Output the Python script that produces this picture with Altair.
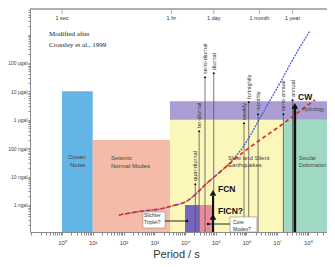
import altair as alt
import pandas as pd

# ---------------- ranges (period in s, amplitude in ngal) ----------------
X_MIN, X_MAX = 0.091, 4.15e8
Y_MIN, Y_MAX = 0.112, 7.9e6

# ---------------- shaded regions ----------------
reg_name = ["Ocean Noise", "Seismic Normal Modes", "Slow and Silent Earthquakes",
            "Secular Deformation", "Hydrology band", "Core mode a", "Core mode b"]
reg_p0 = [1, 10, 3250, 1.55e7, 3250, 10000, 28500]
reg_p1 = [10, 3250, 1.55e7, X_MAX, X_MAX, 28500, 81300]
reg_a0 = [Y_MIN, Y_MIN, Y_MIN, Y_MIN, 1000, Y_MIN, Y_MIN]
reg_a1 = [10000, 195, 1000, 1000, 4500, 1, 1]
reg_col = ["#63b5e6", "#f3bba8", "#fbf7bb", "#a0d9c1", "#aa9dd4", "#7466bf", "#e98b9c"]

# ---------------- region labels ----------------
lab_text = ["Ocean", "Noise", "Seismic", "Normal Modes", "Slow and Silent", "Earthquakes"]
lab_p = [1.57, 1.82, 38.9, 38.9, 2.51e5, 2.51e5]
lab_a = [49, 25.6, 45.2, 23.6, 45.2, 25.6]
edge_text = ["Secular", "Deformation", "Hydrology"]
edge_p = [5.13e7, 5.13e7, 6.38e7]
edge_a = [45.2, 25.6, 2400]

# ---------------- noise curves ----------------
blue_p = [71, 430, 1540, 3780, 11600, 24500, 44700, 81500, 137000, 250000,
          456000, 769000, 1.30e6, 2.75e6, 1.23e7, 5.50e7, 1.16e8]
blue_a = [0.445, 0.615, 0.723, 0.923, 1.38, 2.65, 5.06, 8.93, 14.5, 25.6,
          53.1, 110, 269, 1160, 19800, 366000, 1.34e6]
red_p = [71, 430, 1540, 3780, 11600, 24500, 44700, 81500, 137000, 250000,
         456000, 893000, 2.75e6, 1.23e7, 5.50e7, 1.69e8]
red_a = [0.445, 0.615, 0.723, 0.923, 1.38, 2.65, 5.06, 8.93, 14.5, 25.6,
         45.2, 79.6, 195, 605, 2040, 4980]

# ---------------- tidal lines ----------------
tide_name = ["quar-diurnal", "ter-diurnal", "semi-diurnal", "diurnal", "weekly",
             "fortnightly", "monthly", "semi-annual", "annual"]
tide_period = [21600, 28800, 44712, 86164, 830000, 1180000, 2380000, 15780000, 31560000]
tide_top = [5.5, 405, 32000, 44500, 770, 4240, 1600, 1600, 4990]

# ---------------- big arrows ----------------
arrow_name = ["CW", "FCN", "FICN?"]
arrow_period = [3.74e7, 81300, 81300]
arrow_head = [3090, 2.65, 0.38]
arrow_label_p = [4.73e7, 118000, 118000]
arrow_label_a = [6320, 3.66, 0.615]
shaft_period = [3.74e7, 81300]
shaft_top = [2600, 2.07]
shaft_width = [2.6, 2.0]

# ---------------- boxes with pointers ----------------
box_p0 = [430, 290000]
box_p1 = [2240, 2.19e6]
box_a0 = [0.155, Y_MIN]
box_a1 = [0.568, 0.38]
box_text = ["Slichter", "Triplet?", "Core", "Modes?"]
box_text_p = [465, 465, 364000, 364000]
box_text_a = [0.445, 0.25, 0.247, 0.143]
ptr_p0 = [2240, 290000]
ptr_p1 = [11700, 56200]
ptr_a = [0.273, 0.214]

# ---------------- top period markers ----------------
top_names = ["1 sec", "1 hr", "1 day", "1 month", "1 year"]
top_period = [1, 3600, 86400, 2.63e6, 3.156e7]

# ---------------- citation ----------------
cite_text = ["Modified after", "Crossley et al., 1999"]
cite_p = [0.378, 0.378]
cite_a = [1.05e6, 4.3e5]

# ---------------- scales / axes ----------------
FONT = "Liberation Sans"
XS = alt.Scale(type="log", domain=[X_MIN, X_MAX], nice=False)
YS = alt.Scale(type="log", domain=[Y_MIN, Y_MAX], nice=False)

x_major = {1: "10⁰", 10: "10¹", 100: "10²", 1000: "10³", 10000: "10⁴",
           100000: "10⁵", 1000000: "10⁶", 10000000: "10⁷", 100000000: "10⁸"}
y_major = {1: "1 ngal", 10: "10 ngal", 100: "100 ngal", 1000: "1 µgal",
           10000: "10 µgal", 100000: "100 µgal"}

x_ticks = [m * 10 ** k for k in range(-2, 9) for m in range(1, 10)
           if X_MIN <= m * 10 ** k <= X_MAX]
y_ticks = [m * 10 ** k for k in range(-1, 7) for m in range(1, 10)
           if Y_MIN <= m * 10 ** k <= Y_MAX]


def label_expr(mapping):
    parts = "".join(f"datum.value=={k}?'{v}':" for k, v in mapping.items())
    return parts + "''"


x_axis = alt.Axis(values=x_ticks, labelExpr=label_expr(x_major), tickSize=3,
                  tickColor="#8a8a8a", domainColor="#8a8a8a", labelFontSize=6,
                  labelColor="#444", labelFont=FONT, labelPadding=4,
                  labelOverlap=False, labelFlush=False, grid=False,
                  title="Period / s", titleFont=FONT, titleFontSize=11,
                  titleFontWeight="normal", titleColor="#333", titleX=146,
                  titleY=25, titleBaseline="alphabetic", titleAlign="center")
y_axis = alt.Axis(values=y_ticks, labelExpr=label_expr(y_major), tickSize=2,
                  tickColor="#8a8a8a", domainColor="#8a8a8a", labelFontSize=5,
                  labelColor="#444", labelFont=FONT, labelPadding=1,
                  labelOverlap=False, labelFlush=False, grid=False, title=None)


def X(f):
    return alt.X(f, type="quantitative", scale=XS, axis=x_axis)


def Y(f):
    return alt.Y(f, type="quantitative", scale=YS, axis=y_axis)


def X2(f):
    return alt.X2(f)


def Y2(f):
    return alt.Y2(f)


# ---------------- data frames ----------------
regions = pd.DataFrame({"name": reg_name, "p0": reg_p0, "p1": reg_p1,
                        "a0": reg_a0, "a1": reg_a1, "col": reg_col})
labels = pd.DataFrame({"t": lab_text, "p": lab_p, "a": lab_a})
edge_labels = pd.DataFrame({"t": edge_text, "p": edge_p, "a": edge_a})
blue = pd.DataFrame({"p": blue_p, "a": blue_a})
red = pd.DataFrame({"p": red_p, "a": red_a})
tides = pd.DataFrame({"name": tide_name, "p": tide_period, "top": tide_top,
                      "base": [Y_MIN] * len(tide_name)})
heads = pd.DataFrame({"name": arrow_name, "p": arrow_period, "a": arrow_head,
                      "lp": arrow_label_p, "la": arrow_label_a})
shafts = pd.DataFrame({"p": shaft_period, "top": shaft_top, "w": shaft_width,
                       "base": [Y_MIN] * len(shaft_period)})
boxes = pd.DataFrame({"p0": box_p0, "p1": box_p1, "a0": box_a0, "a1": box_a1})
box_lab = pd.DataFrame({"t": box_text, "p": box_text_p, "a": box_text_a})
ptrs = pd.DataFrame({"p0": ptr_p0, "p1": ptr_p1, "a": ptr_a})
tops = pd.DataFrame({"name": top_names, "p": top_period})
cite = pd.DataFrame({"t": cite_text, "p": cite_p, "a": cite_a})

# ---------------- layers ----------------
rect_layer = alt.Chart(regions).mark_rect(clip=True).encode(
    x=X("p0"), x2=X2("p1"), y=Y("a0"), y2=Y2("a1"),
    color=alt.Color("col:N", scale=None))

tide_rules = alt.Chart(tides).mark_rule(color="#555", strokeWidth=0.8, clip=True).encode(
    x=X("p"), y=Y("base"), y2=Y2("top"))
tide_dots = alt.Chart(tides).mark_point(shape="triangle-up", size=7, filled=True,
                                        color="#111", opacity=1).encode(
    x=X("p"), y=Y("top"))
tide_text = alt.Chart(tides).mark_text(angle=270, align="left", baseline="middle",
                                       dx=3, fontSize=5.6, font=FONT, color="#333").encode(
    x=X("p"), y=Y("top"), text="name:N")

shaft_layer = alt.Chart(shafts).mark_rule(color="#111", clip=True).encode(
    x=X("p"), y=Y("base"), y2=Y2("top"),
    strokeWidth=alt.StrokeWidth("w:Q", scale=None))

blue_line = alt.Chart(blue).mark_line(color="#3a55d8", strokeWidth=1.2,
                                      strokeDash=[2, 1], interpolate="monotone",
                                      clip=True).encode(x=X("p"), y=Y("a"))
red_line = alt.Chart(red).mark_line(color="#e8262b", strokeWidth=1.7,
                                    strokeDash=[4, 3], interpolate="monotone",
                                    clip=True).encode(x=X("p"), y=Y("a"))

head_layer = alt.Chart(heads).mark_point(shape="triangle-up", size=45, filled=True,
                                         color="#111", opacity=1).encode(
    x=X("p"), y=Y("a"))
head_text = alt.Chart(heads).mark_text(align="left", baseline="middle", fontSize=8.5,
                                       fontWeight="bold", font=FONT, color="#111").encode(
    x=X("lp"), y=Y("la"), text="name:N")

box_layer = alt.Chart(boxes).mark_rect(fill="white", stroke="#8c8c8c",
                                       strokeWidth=0.6, clip=True).encode(
    x=X("p0"), x2=X2("p1"), y=Y("a0"), y2=Y2("a1"))
box_text_layer = alt.Chart(box_lab).mark_text(align="left", baseline="middle",
                                              fontSize=5, font=FONT, color="#333").encode(
    x=X("p"), y=Y("a"), text="t:N")
ptr_layer = alt.Chart(ptrs).mark_rule(color="#111", strokeWidth=0.9).encode(
    x=X("p0"), x2=X2("p1"), y=Y("a"))
ptr_dot = alt.Chart(ptrs).mark_point(shape="circle", size=6, filled=True,
                                     color="#111", opacity=1).encode(
    x=X("p1"), y=Y("a"))

label_layer = alt.Chart(labels).mark_text(align="left", baseline="middle", fontSize=6,
                                          font=FONT, color="#444").encode(
    x=X("p"), y=Y("a"), text="t:N")
edge_layer = alt.Chart(edge_labels).mark_text(align="left", baseline="middle",
                                              fontSize=5, font=FONT, color="#444").encode(
    x=X("p"), y=Y("a"), text="t:N")

cite_layer = alt.Chart(cite).mark_text(align="left", baseline="middle", fontSize=7,
                                       font="Liberation Serif", color="#222").encode(
    x=X("p"), y=Y("a"), text="t:N")

top_ticks = alt.Chart(tops).mark_rule(color="#9a9a9a", strokeWidth=0.8).encode(
    x=X("p"), y=alt.value(0), y2=alt.value(5))
top_text = alt.Chart(tops).mark_text(align="center", baseline="middle", fontSize=5.5,
                                     font=FONT, color="#333").encode(
    x=X("p"), y=alt.value(9), text="name:N")
top_frame = alt.Chart(tops).mark_rule(color="#b0b0b0", strokeWidth=1.4).encode(
    x=alt.value(0), x2=alt.value(297), y=alt.value(0))

chart = alt.layer(
    rect_layer, tide_rules, shaft_layer, blue_line, red_line, tide_dots, tide_text,
    head_layer, head_text, box_layer, box_text_layer, ptr_layer, ptr_dot,
    label_layer, edge_layer, cite_layer, top_ticks, top_text, top_frame
).properties(
    width=297, height=223,
    autosize=alt.AutoSizeParams(type="none"),
    padding={"left": 22, "top": 1, "right": 0, "bottom": 27},
    background="white",
).configure_view(stroke=None)

chart.save("out.html", embed_options={"renderer": "svg", "actions": False})
